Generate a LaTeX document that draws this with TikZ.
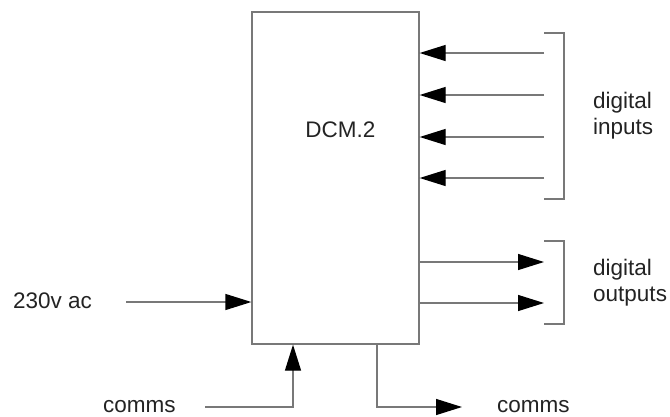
\documentclass[tikz,border=0pt]{standalone}
\usepackage{fontspec}
\setmainfont{Liberation Sans}
\usetikzlibrary{arrows.meta}
\definecolor{linegray}{RGB}{120,120,120}
\definecolor{txt}{RGB}{35,35,35}
\begin{document}
\begin{tikzpicture}[x=1pt,y=1pt,
  wire/.style={draw=linegray, line width=1.3pt},
  arr/.style={wire, -{Triangle[length=26pt,width=16pt,color=black]}},
  bracket/.style={draw=linegray, line width=1.3pt},
  lbl/.style={font=\fontsize{22.5}{26}\selectfont, text=txt, inner sep=0pt},
]
\useasboundingbox (0,0) rectangle (670,-416);
% main box
\node[wire, minimum width=167pt, minimum height=332pt, inner sep=0pt] (dcm) at (335.5,-178) {};
\node[lbl, anchor=base] (dcmlbl) at (340.5,-137) {DCM.2};
% digital inputs
\foreach \i/\y in {1/53,2/95,3/137,4/178} {
  \coordinate (in\i) at (544,-\y);
  \draw[arr] (in\i) -- (in\i -| dcm.east);
}
\coordinate (bia) at (544,-33);
\coordinate (bib) at (564,-33);
\coordinate (bic) at (564,-199);
\coordinate (bid) at (544,-199);
\draw[bracket] (bia) -- (bib) -- (bic) -- (bid);
\node[lbl, anchor=west, align=left] (inlbl) at (593,-116) {digital\\inputs};
% digital outputs
\foreach \i/\y in {1/262,2/303} {
  \coordinate (out\i) at (544,-\y);
  \draw[arr] (out\i -| dcm.east) -- (out\i);
}
\coordinate (boa) at (544,-241);
\coordinate (bob) at (564,-241);
\coordinate (boc) at (564,-324);
\coordinate (bod) at (544,-324);
\draw[bracket] (boa) -- (bob) -- (boc) -- (bod);
\node[lbl, anchor=west, align=left] (outlbl) at (593,-282.5) {digital\\outputs};
% 230v ac
\node[lbl, anchor=base west] (ac) at (13,-308) {230v ac};
\coordinate (acsrc) at (126,-302);
\draw[arr] (acsrc) -- (acsrc -| dcm.west);
% comms in
\node[lbl, anchor=base west] (commsin) at (103,-412) {comms};
\coordinate (cin) at (205,-407);
\coordinate (cinx) at (293,-407);
\draw[arr] (cin) -- (cinx) -- (cinx |- dcm.south);
% comms out
\coordinate (coutx) at (377,-407);
\coordinate (cout) at (462,-407);
\draw[arr] (coutx |- dcm.south) -- (coutx) -- (cout);
\node[lbl, anchor=base west] (commsout) at (497,-412) {comms};
\end{tikzpicture}
\end{document}
